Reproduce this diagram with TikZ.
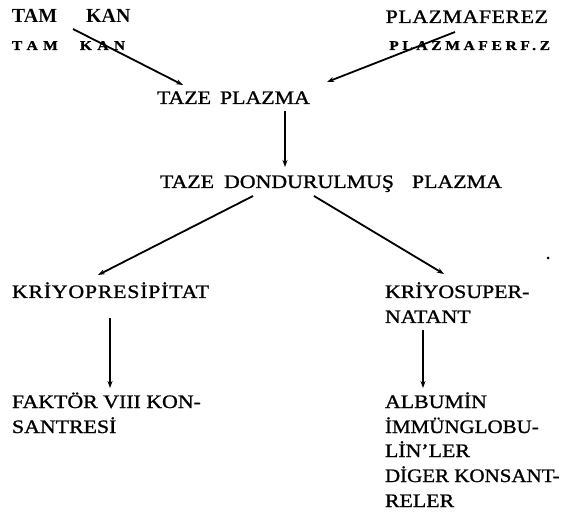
\documentclass[tikz,border=0pt]{standalone}
\usepackage{fontspec}
\setmainfont{Liberation Serif}[FakeStretch=1.15, FakeBold=1.1]
\newfontfamily\plainserif{Liberation Serif}
\usetikzlibrary{arrows.meta}
\tikzset{
  lbl/.style={inner sep=0pt, outer sep=0pt, anchor=base west, font=\fontsize{19}{25}\selectfont},
  head/.style={lbl, font=\plainserif\bfseries\fontsize{20}{25}\selectfont},
  echo/.style={lbl, font=\bfseries\fontsize{13.5}{16}\selectfont\addfontfeature{LetterSpace=27}},
  arr/.style={line width=1.8pt, -{Stealth[length=7pt,width=5pt]}}
}
\begin{document}
\begin{tikzpicture}[x=1pt, y=-1pt]
\useasboundingbox (0,0) rectangle (565,521);

% sources
\node[head] (tam) at (12,23) {TAM\hspace{29pt}KAN};
\node[echo] (tam2) at (12,50) {\addfontfeature{LetterSpace=40}TAM\hspace{22pt}KAN};
\node[lbl, anchor=base east] (plaz) at (548,23) {\addfontfeature{LetterSpace=3}PLAZMAFEREZ};
\node[echo, anchor=base east] (plaz2) at (550,50) {PLAZMAFERF.Z};

% plasma chain
\node[lbl] (taze) at (157,104) {TAZE\hspace{9pt}PLAZMA};
\node[lbl] (tdp) at (160,188) {TAZE\hspace{10pt}DONDURULMUŞ\hspace{18pt}PLAZMA};

% fractions
\node[lbl] (kp) at (12,298) {\addfontfeature{LetterSpace=4}KRİYOPRESİPİTAT};
\node[lbl] (ks1) at (385,298) {KRİYOSUPER-};
\node[lbl] (ks2) at (385,323) {NATANT};

% products
\node[lbl] (f1) at (12,408) {FAKTÖR VIII KON-};
\node[lbl] (f2) at (12,433) {SANTRESİ};
\node[lbl] (a1) at (385,408) {ALBUMİN};
\node[lbl] (a2) at (385,433) {\scalebox{0.96}[1]{İMMÜNGLOBU-}};
\node[lbl] (a3) at (385,457) {LİN'LER};
\node[lbl] (a4) at (385,482) {\scalebox{0.96}[1]{DİGER KONSANT-}};
\node[lbl] (a5) at (385,507) {RELER};

% connectors
\draw[arr] ([shift={(61,6)}]tam.base west) -- ([shift={(26,-19)}]taze.base west);
\draw[arr] ([shift={(-95,-18)}]plaz2.base east) -- ([shift={(170,-22)}]taze.base west);
\draw[arr] ([shift={(128,7)}]taze.base west) -- ([shift={(125,-21)}]tdp.base west);
\draw[arr] ([shift={(93,8)}]tdp.base west) -- ([shift={(86,-23)}]kp.base west);
\draw[arr] ([shift={(154,8)}]tdp.base west) -- ([shift={(59,-24)}]ks1.base west);
\draw[arr] ([shift={(98,20)}]kp.base west) -- ([shift={(98,-20)}]f1.base west);
\draw[arr] ([shift={(38,7)}]ks2.base west) -- ([shift={(38,-20)}]a1.base west);

% stray mark
\fill (548,258) circle (1.5);
\end{tikzpicture}
\end{document}
